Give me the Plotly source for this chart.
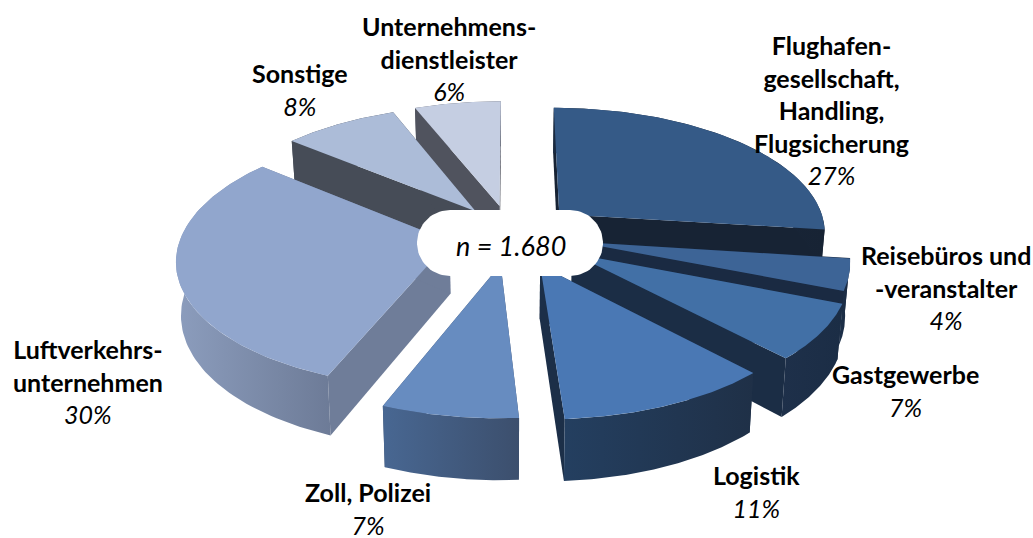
import numpy as np
import plotly.graph_objects as go

categories = ["Flughafen-<br>gesellschaft,<br>Handling,<br>Flugsicherung", "Reisebüros und<br>-veranstalter",
              "Gastgewerbe", "Logistik", "Zoll, Polizei", "Luftverkehrs-<br>unternehmen", "Sonstige",
              "Unternehmens-<br>dienstleister"]
values = [27, 4, 7, 11, 7, 30, 8, 6]
center_label = "n = 1.680"

explode = [0.245, 0.25, 0.27, 0.265, 0.24, 0.235, 0.23, 0.235]
top_colors = ["#355a87", "#3d6496", "#4270a6", "#4a78b4", "#678cc0", "#91a6cd", "#acbcd8", "#c5cee2"]
cut_colors = ["#172334", "#1a2a42", "#1b2d45", "#1c2f48", "#3c4f6d", "#6f7d99", "#464c57", "#50535e"]
wall_colors = [("#1a2a40", "#172334"), ("#1d3049", "#1a2a42"), ("#1e304a", "#1b2d45"), ("#243f60", "#1f3047"),
               ("#486792", "#3c4f6d"), ("#8c9dbd", "#6d7b97"), ("#464c57", "#464c57"), ("#50535e", "#50535e")]
label_xy = [(831, 110), (946, 287), (905, 390), (756, 491), (368, 508), (88, 381), (300, 89), (449, 58)]
draw_order = [7, 6, 5, 0, 1, 2, 3, 4]

CX, CY, RX, RY, K, H = 511, 234, 268, 125, 0.13, 52
bounds = np.concatenate([[0], np.cumsum(values)]) / sum(values) * 2 * np.pi


def project(X, Y, down=False):
    s = 1 / (1 + K * Y)
    px = X * RX * s
    py = -Y * RY * s
    if down:
        return CX + px * 0.985, CY + py + H * s
    return CX + px, CY + py


def slice_geo(i):
    a0, a1 = bounds[i], bounds[i + 1]
    m = (a0 + a1) / 2
    ax, ay = explode[i] * np.sin(m), explode[i] * np.cos(m)
    t = np.linspace(a0, a1, 80)
    return ax, ay, ax + np.sin(t), ay + np.cos(t)


def poly(x, y, color=None, grad=None):
    kw = dict(fillgradient=dict(type="horizontal", colorscale=[[0, grad[0]], [1, grad[1]]])) if grad else dict(fillcolor=color)
    return go.Scatter(x=np.append(x, x[0]), y=np.append(y, y[0]), mode="lines", fill="toself",
                      line=dict(width=0), hoverinfo="skip", showlegend=False, **kw)


fig = go.Figure()
for i in draw_order:
    ax, ay, ox, oy = slice_geo(i)
    tx, ty = project(ox, oy)
    bx, by = project(ox, oy, True)
    apx, apy = project(ax, ay)
    abx, aby = project(ax, ay, True)
    for k in (0, -1):
        fig.add_trace(poly(np.array([apx, tx[k], bx[k], abx]), np.array([apy, ty[k], by[k], aby]), cut_colors[i]))
    fig.add_trace(poly(np.concatenate([tx, bx[::-1]]), np.concatenate([ty, by[::-1]]), grad=wall_colors[i]))
    fig.add_trace(poly(np.concatenate([[apx], tx]), np.concatenate([[apy], ty]), top_colors[i]))

# white rounded label plate in the middle
x0, x1, y0, y1, r = 417, 603, 210, 276, 33
t = np.linspace(-np.pi / 2, np.pi / 2, 40)
pill_x = np.concatenate([x1 - r + r * np.cos(t), x0 + r - r * np.cos(t[::-1])])
pill_y = np.concatenate([(y0 + y1) / 2 + r * np.sin(t), (y0 + y1) / 2 + r * np.sin(t[::-1])])
fig.add_trace(poly(pill_x, pill_y, "white"))

annotations = []
for name, v, (x, y) in zip(categories, values, label_xy):
    lines = "<br>".join(f"<b>{p}</b>" for p in name.split("<br>"))
    annotations.append(dict(x=x, y=y, text=f"{lines}<br><i>{v}%</i>", showarrow=False, align="center",
                            xanchor="center", yanchor="middle", font=dict(family="Lato", size=25, color="black")))
annotations.append(dict(x=511, y=245, text=f"<i>{center_label}</i>", showarrow=False,
                        font=dict(family="Lato", size=27, color="black")))

fig.update_layout(width=1033, height=538, margin=dict(l=0, r=0, t=0, b=0),
                  paper_bgcolor="white", plot_bgcolor="white", showlegend=False,
                  xaxis=dict(range=[0, 1033], visible=False, fixedrange=True),
                  yaxis=dict(range=[538, 0], visible=False, fixedrange=True),
                  annotations=annotations)
fig.write_html("out.html", config=dict(displayModeBar=False),
               post_script="document.body.style.margin='0';document.body.style.overflow='hidden';")
